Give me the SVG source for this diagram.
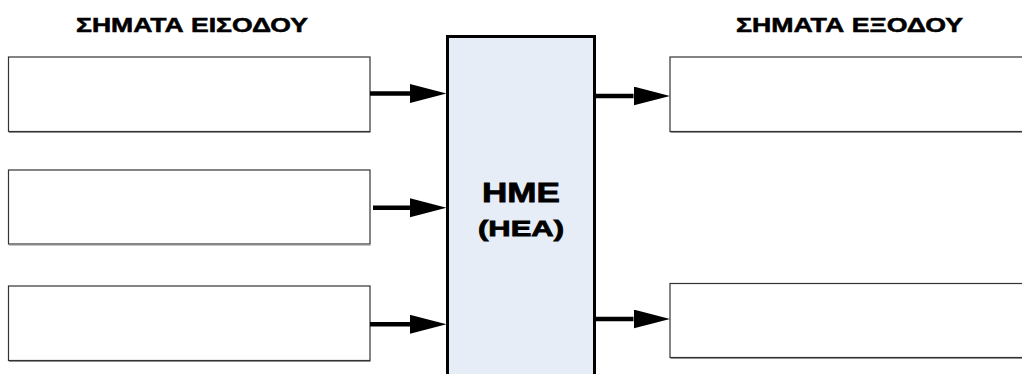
<svg xmlns="http://www.w3.org/2000/svg" width="1022" height="374" viewBox="0 0 1022 374">
<style>
.box{fill:#ffffff;stroke:#333333;stroke-width:1.2}
.shadow{fill:none;stroke:#8c8c8c;stroke-width:1}
.core{fill:#e7edf7;stroke:#000000;stroke-width:3}
.title{font-family:"Liberation Sans",Arial,sans-serif;font-weight:bold;font-size:19.5px;fill:#000;stroke:#000;stroke-width:0.5}
.lbl{font-family:"Liberation Sans",Arial,sans-serif;font-weight:bold;fill:#000;stroke:#000;stroke-width:0.8;text-anchor:start}
.conn{stroke:#000;stroke-width:4.5;fill:none}
</style>
<defs>
<marker id="ah" markerUnits="userSpaceOnUse" markerWidth="38" markerHeight="20" viewBox="0 0 38 20" refX="0" refY="9.5" orient="auto">
<path d="M0,0 L36.5,9.5 L0,19 Z" fill="#000"/>
</marker>
</defs>
<rect width="1022" height="374" fill="#ffffff"/>
<text class="title" x="76" y="31.5" textLength="232" lengthAdjust="spacingAndGlyphs">ΣΗΜΑΤΑ ΕΙΣΟΔΟΥ</text>
<text class="title" x="736" y="31.5" textLength="227" lengthAdjust="spacingAndGlyphs">ΣΗΜΑΤΑ ΕΞΟΔΟΥ</text>
<g id="in1">
<rect class="box" x="8.5" y="57" width="361.5" height="74.5"/>
<path class="shadow" d="M9,132.5 H370.5"/>
</g>
<g id="in2">
<rect class="box" x="8.5" y="170" width="361.5" height="74"/>
<path class="shadow" d="M9,245 H370.5"/>
</g>
<g id="in3">
<rect class="box" x="8.5" y="286" width="361.5" height="74.5"/>
<path class="shadow" d="M9,361.5 H370.5"/>
</g>
<g id="hme">
<rect class="core" x="447.5" y="36.5" width="147" height="345"/>
<text class="lbl" x="482" y="201.5" font-size="28" textLength="78" lengthAdjust="spacingAndGlyphs">HME</text>
<text class="lbl" x="478" y="235.5" font-size="22.5" textLength="86" lengthAdjust="spacingAndGlyphs">(HEA)</text>
</g>
<g id="out1">
<rect class="box" x="670" y="57" width="360" height="74.5"/>
<path class="shadow" d="M670.5,132.5 H1022"/>
</g>
<g id="out2">
<rect class="box" x="670" y="283.5" width="360" height="74"/>
<path class="shadow" d="M670.5,358.5 H1022"/>
</g>
<g id="connectors">
<line class="conn" x1="370" y1="93.5" x2="410" y2="93.5" marker-end="url(#ah)"/>
<line class="conn" x1="373" y1="207.8" x2="410" y2="207.8" marker-end="url(#ah)"/>
<line class="conn" x1="370" y1="324.3" x2="410" y2="324.3" marker-end="url(#ah)"/>
<line class="conn" x1="596" y1="96" x2="633.5" y2="96" marker-end="url(#ah)"/>
<line class="conn" x1="596" y1="319" x2="633.5" y2="319" marker-end="url(#ah)"/>
</g>
</svg>
